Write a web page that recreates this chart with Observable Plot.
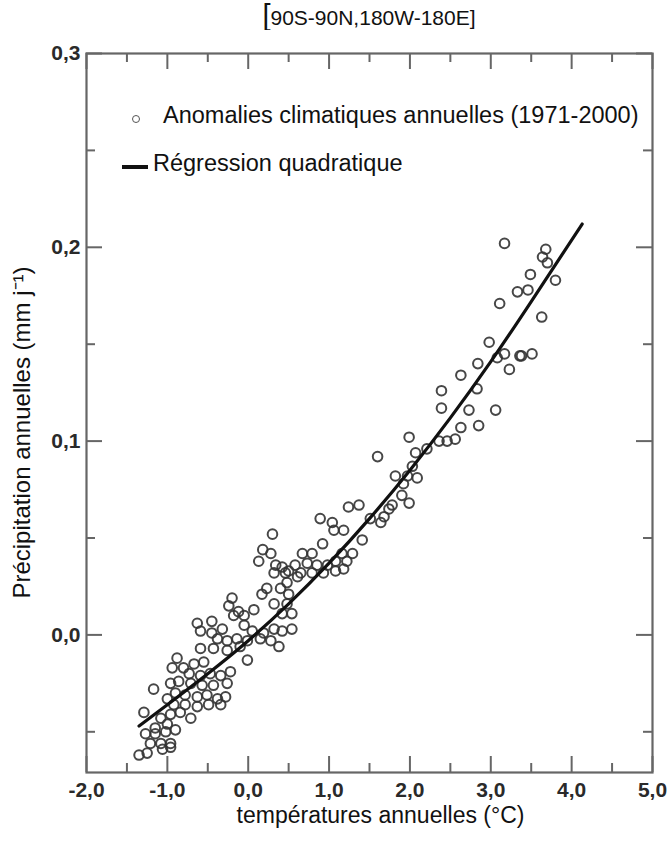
<!DOCTYPE html>
<html><head><meta charset="utf-8">
<script src="https://cdn.jsdelivr.net/npm/d3@7"></script>
<script src="https://cdn.jsdelivr.net/npm/@observablehq/plot@0.6"></script>
<style>
body{margin:0;background:#fff;font-family:"Liberation Sans",Arial,sans-serif;}
#wrap{position:relative;width:672px;height:842px;overflow:hidden;}
#title{position:absolute;left:86px;width:566px;top:0;height:30px;line-height:30px;text-align:center;font-size:21px;color:#111;}
#title .br{font-size:29px;}
.leg{position:absolute;font-size:23.5px;color:#111;white-space:nowrap;line-height:1;}
#chart{position:absolute;top:30px;left:0;}
</style></head><body>
<div id="wrap">
<div id="title"><span class="br">[</span>90S-90N,180W-180E]</div>
<div id="chart"></div>
<div class="leg" style="left:132px;top:115px;width:6px;height:6px;border:1.8px solid #555;border-radius:50%"></div>
<div class="leg" style="left:163px;top:104px">Anomalies climatiques annuelles (1971-2000)</div>
<div class="leg" style="left:122px;top:165px;width:26px;height:4px;background:#111"></div>
<div class="leg" style="left:153px;top:152px">Régression quadratique</div>
</div>
<script>
// Annual anomalies
const tempAnom = [
 3.17,3.68,3.64,3.70,3.80,3.49,3.33,3.46,3.11,3.63,2.98,3.17,3.08,3.36,3.38,3.51,3.23,2.84,2.63,2.83,2.73,3.06,2.85,2.63,2.56,2.46,2.39,2.39,
 2.36,1.99,2.21,2.07,1.60,2.03,1.82,1.97,2.09,1.92,1.90,1.78,1.99,1.74,1.68,1.24,1.37,1.64,1.51,0.89,1.04,1.06,1.18,1.41,0.92,1.29,1.16,0.67,0.79,1.08,1.22,0.58,0.73,0.85,0.98,0.50,0.65,0.79,0.93,1.08,1.18,0.42,
 0.30,0.18,0.28,0.13,
 0.34,0.32,0.46,0.61,0.48,0.40,0.23,0.17,0.50,0.32,0.48,0.42,0.54,0.54,-0.20,-0.24,-0.12,0.07,-0.05,-0.18,-0.63,-0.45,-0.59,-0.45,-0.32,-0.05,0.05,0.19,0.32,0.42,
 0.15,0.28,0.38,-0.01,-0.14,-0.26,-0.38,-0.59,-0.43,-0.26,-0.10,-0.01,-0.88,-0.94,-0.80,-0.67,-0.55,-0.73,-0.59,-0.47,-0.34,-0.22,-0.26,-0.43,-0.57,-0.71,-0.86,-0.96,
 -1.17,-0.90,-0.78,-0.63,-0.51,-0.38,-0.28,-0.34,-0.49,-0.63,-0.78,-0.92,-1.00,-0.84,-0.71,-0.96,-1.08,-1.29,-1.00,-1.15,-1.27,-1.15,-1.02,-0.90,-1.08,-0.96,-1.21,-1.06,-0.96,-1.35,-1.25
];
const precipAnom = [
 0.202,0.199,0.195,0.192,0.183,0.186,0.177,0.178,0.171,0.164,0.151,0.145,0.143,0.144,0.144,0.145,0.137,0.140,0.134,0.127,0.116,0.116,0.108,0.107,0.101,0.100,0.126,0.117,
 0.100,0.102,0.096,0.094,0.092,0.087,0.082,0.082,0.081,0.078,0.072,0.067,0.068,0.065,0.061,0.066,0.067,0.058,0.060,0.060,0.058,0.054,0.054,0.049,0.047,0.042,0.042,0.042,0.042,0.038,0.038,0.036,0.037,0.036,0.036,0.033,0.032,0.032,0.032,0.033,0.034,0.035,
 0.052,0.044,0.042,0.038,
 0.036,0.032,0.032,0.030,0.027,0.024,0.024,0.021,0.021,0.016,0.016,0.011,0.011,0.003,0.019,0.015,0.012,0.013,0.010,0.010,0.006,0.007,0.002,0.001,0.003,0.005,0.002,0.001,0.003,0.002,
 -0.002,-0.003,-0.006,-0.003,-0.002,-0.003,-0.002,-0.007,-0.007,-0.008,-0.006,-0.013,-0.012,-0.017,-0.017,-0.015,-0.014,-0.020,-0.021,-0.020,-0.021,-0.019,-0.025,-0.026,-0.026,-0.025,-0.024,-0.025,
 -0.028,-0.030,-0.031,-0.032,-0.031,-0.033,-0.032,-0.036,-0.036,-0.037,-0.036,-0.036,-0.033,-0.040,-0.043,-0.041,-0.043,-0.040,-0.046,-0.048,-0.051,-0.051,-0.050,-0.049,-0.056,-0.056,-0.056,-0.059,-0.058,-0.062,-0.061
];
// Quadratic regression curve
const curveTemp = [-1.35,-1.0,-0.5,0,0.5,1.0,1.5,2.0,2.5,3.0,3.5,4.13];
const curvePrecip = [-0.047,-0.036,-0.020,-0.003,0.016,0.037,0.060,0.085,0.112,0.141,0.172,0.212];
// Ticks
const xMajor = [-2,-1,0,1,2,3,4,5];
const xMinor = [-1.5,-0.5,0.5,1.5,2.5,3.5,4.5];
const yMajor = [0,0.1,0.2,0.3];
const yMinor = [-0.05,0.05,0.15,0.25];
const xLabel = "températures annuelles (°C)";
const yLabel = "Précipitation annuelles (mm j⁻¹)";

const points = tempAnom.map((t,i)=>({t, p: precipAnom[i]}));
const curve = curveTemp.map((t,i)=>({t, p: curvePrecip[i]}));

const W = 672, Hs = 812, mT = 23, mB = 70, mL = 86, mR = 20;
const PW = W - mL - mR, PH = Hs - mT - mB;
const fmt = d => d.toFixed(1).replace(".", ",");
const tickColor = "#666";

const chart = Plot.plot({
  width: W, height: Hs,
  marginTop: mT, marginBottom: mB, marginLeft: mL, marginRight: mR,
  x: {domain: [-2, 5]},
  y: {domain: [-0.071, 0.3]},
  style: {fontFamily: '"Liberation Sans", Arial, sans-serif', fontSize: "21px", color: "#111", background: "white"},
  marks: [
    Plot.ruleX(xMajor, {insetTop: PH - 16, stroke: tickColor, strokeWidth: 2}),
    Plot.ruleX(xMinor, {insetTop: PH - 9, stroke: tickColor, strokeWidth: 2}),
    Plot.ruleX(xMajor, {insetBottom: PH - 16, stroke: tickColor, strokeWidth: 2}),
    Plot.ruleX(xMinor, {insetBottom: PH - 9, stroke: tickColor, strokeWidth: 2}),
    Plot.ruleY(yMajor, {insetRight: PW - 16, stroke: tickColor, strokeWidth: 2}),
    Plot.ruleY(yMinor, {insetRight: PW - 9, stroke: tickColor, strokeWidth: 2}),
    Plot.ruleY(yMajor, {insetLeft: PW - 16, stroke: tickColor, strokeWidth: 2}),
    Plot.ruleY(yMinor, {insetLeft: PW - 9, stroke: tickColor, strokeWidth: 2}),
    Plot.frame({stroke: tickColor, strokeWidth: 2.2}),
    Plot.axisX({ticks: xMajor, tickSize: 0, tickPadding: 10, tickFormat: fmt, label: null, fontSize: 21, fontWeight: "bold", fill: "#2a2a2a"}),
    Plot.axisY({ticks: yMajor, tickSize: 0, tickPadding: 6, tickFormat: fmt, label: null, fontSize: 21, fontWeight: "bold", fill: "#2a2a2a"}),
    Plot.dot(points, {x: "t", y: "p", r: 4.8, stroke: "#333", strokeWidth: 2, strokeOpacity: 0.9, fill: "none"}),
    Plot.line(curve, {x: "t", y: "p", stroke: "#111", strokeWidth: 3.2, curve: "natural"}),
    Plot.text([xLabel], {frameAnchor: "bottom", dx: 11, dy: 43, fontSize: 23, lineAnchor: "middle", textAnchor: "middle", fill: "#111"}),
    Plot.text([yLabel], {frameAnchor: "left", rotate: -90, dx: -64, dy: 19.5, fontSize: 24, lineAnchor: "middle", textAnchor: "middle", fill: "#111"})
  ]
});
document.getElementById("chart").appendChild(chart);
</script>
</body></html>
